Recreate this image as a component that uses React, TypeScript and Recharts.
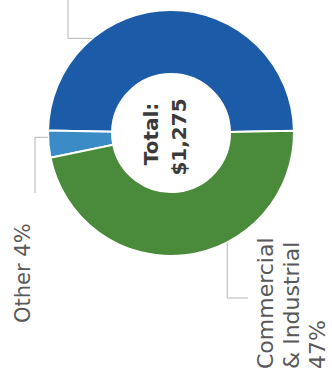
import { PieChart, Pie, Cell } from "recharts";

const categories = ["Residential", "Other", "Commercial & Industrial"];
const amounts = [630, 45, 600];
const colors = ["#1c5ba7", "#3a8bc6", "#4a8a3b"];

const total = amounts.reduce((a, b) => a + b, 0);
const data = categories.map((name, i) => ({ name, value: amounts[i] }));

const W = 371;
const H = 332;

const lineColor = "#b5b5b5";
const textColor = "#585858";
const font = "'DejaVu Sans', sans-serif";

const renderLabel = (props: any) => {
    const { cx, cy, outerRadius, index, percent } = props;
    const pct = Math.round(percent * 100) + "%";
    const r = outerRadius;
    const RAD = Math.PI / 180;

    if (index === 0) {
        // label text for this slice sits outside the cropped area, only its leader shows
        const a = 39.7 * RAD;
        const x0 = cx + r * Math.cos(a);
        const y0 = cy - r * Math.sin(a);
        return (
            <polyline
                points={`${x0},${y0} ${x0},${cy - 103} ${W + 10},${cy - 103}`}
                fill="none"
                stroke={lineColor}
                strokeWidth={1}
            />
        );
    }
    if (index === 1) {
        const a = 92 * RAD;
        const x0 = cx + r * Math.cos(a);
        const y0 = cy - r * Math.sin(a);
        return (
            <g>
                <polyline
                    points={`${x0},${y0} ${x0},${cy - 136} ${cx - 60},${cy - 136}`}
                    fill="none"
                    stroke={lineColor}
                    strokeWidth={1}
                />
                <text x={cx - 190} y={cy - 141} fontSize={21} fill={textColor} fontFamily={font}>
                    {categories[1]} {pct}
                </text>
            </g>
        );
    }
    const a = 207.2 * RAD;
    const x0 = cx + r * Math.cos(a);
    const y0 = cy - r * Math.sin(a);
    return (
        <g>
            <polyline
                points={`${x0},${y0} ${cx - 165},${y0} ${cx - 165},${cy + 77}`}
                fill="none"
                stroke={lineColor}
                strokeWidth={1}
            />
            <text x={cx - 236} y={cy + 102} fontSize={22} fill={textColor} fontFamily={font}>
                <tspan x={cx - 236}>Commercial</tspan>
                <tspan x={cx - 236} dy={26}>&amp; Industrial</tspan>
                <tspan x={cx - 236} dy={26}>{pct}</tspan>
            </text>
        </g>
    );
};

export default function App() {
    const cx = 238;
    const cy = 171;
    return (
        <div
            style={{
                position: "absolute",
                left: 0,
                top: 0,
                width: H,
                height: W,
                overflow: "hidden",
                background: "#ffffff",
            }}
        >
            <div
                style={{
                    width: W,
                    height: H,
                    transformOrigin: "0 0",
                    transform: `translateY(${W}px) rotate(-90deg)`,
                }}
            >
                <PieChart width={W} height={H} margin={{ top: 0, right: 0, bottom: 0, left: 0 }}>
                    <Pie
                        data={data}
                        dataKey="value"
                        nameKey="name"
                        cx={cx}
                        cy={cy}
                        innerRadius={59}
                        outerRadius={123}
                        startAngle={-89}
                        endAngle={271}
                        stroke="#ffffff"
                        strokeWidth={2}
                        label={renderLabel}
                        labelLine={false}
                        isAnimationActive={false}
                    >
                        {data.map((d, i) => (
                            <Cell key={d.name} fill={colors[i]} />
                        ))}
                    </Pie>
                    <text
                        x={cx - 1}
                        y={cy - 13}
                        textAnchor="middle"
                        fontSize={20}
                        fontWeight="bold"
                        fill="#3a3a3a"
                        fontFamily={font}
                    >
                        Total:
                    </text>
                    <text
                        x={cx - 4}
                        y={cy + 15}
                        textAnchor="middle"
                        fontSize={20}
                        fontWeight="bold"
                        fill="#3a3a3a"
                        fontFamily={font}
                    >
                        ${total.toLocaleString("en-US")}
                    </text>
                </PieChart>
            </div>
        </div>
    );
}
